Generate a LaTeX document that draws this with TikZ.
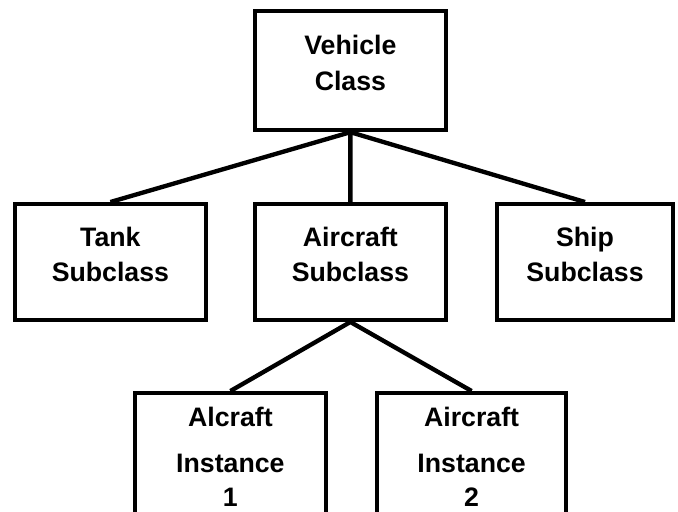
\documentclass[tikz,border=0pt]{standalone}
\usepackage{fontspec}
\setmainfont{Liberation Sans}
\newcommand{\lift}{\\[-14pt]\mbox{}}
\begin{document}
\begin{tikzpicture}[box/.style={draw,rectangle,line width=3.1pt,align=center,
    font=\fontsize{19}{25}\selectfont\bfseries,inner sep=0pt}]
        \clip (0,0) rectangle (16.95,12.775);
        \draw (8.76,11.01) node[box,minimum width=4.77cm,minimum height=2.97cm](vc){Vehicle\\Class\lift};
        \draw (2.76,6.225) node[box,minimum width=4.77cm,minimum height=2.89cm](tank){Tank\\Subclass\lift};
        \draw (8.76,6.225) node[box,minimum width=4.77cm,minimum height=2.89cm](air){Aircraft\\Subclass\lift};
        \draw (14.625,6.225) node[box,minimum width=4.39cm,minimum height=2.89cm](ship){Ship\\Subclass\lift};
        \draw (5.76,1.16) node[box,minimum width=4.77cm,minimum height=3.57cm](ai1){Alcraft\\[7.6pt]Instance\\[-1pt]1\lift};
        \draw (11.79,1.16) node[box,minimum width=4.72cm,minimum height=3.57cm](ai2){Aircraft\\[7.6pt]Instance\\[-1pt]2\lift};
        \draw[line width=3.1pt]
          (vc.south) -- (tank.north)
          (vc.south) -- (air.north)
          (vc.south) -- (ship.north)
          (air.south) -- (ai1.north)
          (air.south) -- (ai2.north)
        ;
\end{tikzpicture}
\end{document}
